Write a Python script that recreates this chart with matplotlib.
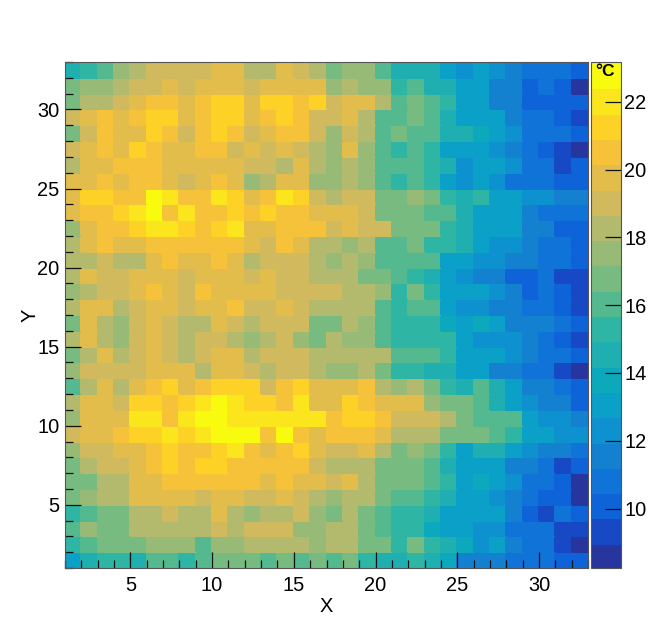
import matplotlib
matplotlib.use("Agg")
import numpy as np
import matplotlib.pyplot as plt
from matplotlib.colors import ListedColormap, BoundaryNorm
from matplotlib.ticker import MultipleLocator

plt.rcParams['font.family'] = ['Liberation Sans', 'DejaVu Sans']

x_edges = list(range(1, 34))
y_edges = list(range(1, 34))
cbar_ticks = [10, 12, 14, 16, 18, 20, 22]
z_min = 8.25
z_max = 23.17
palette = ['#27359e', '#1749c5', '#0e63d9', '#1073d8', '#1480d0', '#0e92cf', '#0aa0c8',
           '#0ca9bd', '#1fafb0', '#2fb5a3', '#55b990', '#77bb80', '#97bb76', '#b3ba6d',
           '#d1b95e', '#e3bd4c', '#f5c23a', '#fed126', '#fbe51c', '#f9fb0e']

# temperatures, first list is the top row (Y = 32-33)
temps = [
 [14.6,15.3,16.1,17.6,18.3,19.1,19.1,19.1,19.1,19.8,19.8,18.3,18.3,19.8,19.1,18.3,16.8,17.6,17.6,16.1,14.6,14.6,14.6,13.1,12.4,13.1,12.4,11.6,10.9,10.9,10.9,10.1],
 [16.8,17.6,17.6,18.3,19.1,19.1,19.8,19.1,19.8,19.8,19.8,19.1,19.8,19.8,19.8,19.8,17.6,18.3,17.6,17.6,15.3,16.1,14.6,14.6,13.1,13.1,11.6,11.6,10.1,10.9,10.1,8.6],
 [16.8,18.3,18.3,19.1,19.8,20.6,20.6,19.8,20.6,21.3,21.3,19.8,21.3,21.3,20.6,21.3,19.1,19.8,19.8,18.3,16.1,16.8,16.1,15.3,13.1,13.1,11.6,11.6,10.1,10.1,10.1,10.1],
 [19.1,19.8,20.6,19.8,20.6,21.3,21.3,19.8,20.6,21.3,21.3,19.8,20.6,21.3,20.6,19.1,19.1,19.8,18.3,16.1,16.1,16.8,16.1,14.6,13.1,13.1,13.1,11.6,10.9,10.9,10.1,9.4],
 [16.8,19.1,20.6,19.8,19.8,21.3,20.6,19.1,20.6,21.3,20.6,19.1,19.8,20.6,20.6,19.1,17.6,19.1,18.3,16.1,16.8,16.1,16.1,14.6,14.6,13.9,13.1,12.4,10.9,10.9,10.9,10.1],
 [19.1,19.8,20.6,19.8,21.3,20.6,19.8,19.8,20.6,20.6,19.1,19.8,19.1,19.8,19.1,18.3,17.6,19.8,17.6,16.1,15.3,16.1,15.3,13.1,13.1,13.1,12.4,11.6,10.9,10.1,9.4,8.6],
 [18.3,19.8,19.8,20.6,20.6,20.6,19.8,19.8,19.8,19.8,19.8,19.1,19.1,18.3,19.8,18.3,17.6,18.3,17.6,16.1,16.1,16.1,15.3,14.6,12.4,13.1,13.1,12.4,10.9,10.9,9.4,10.1],
 [19.8,19.8,20.6,19.8,20.6,20.6,19.8,19.1,19.8,20.6,19.8,17.6,18.3,19.8,19.8,17.6,17.6,18.3,17.6,16.1,15.3,16.1,15.3,13.1,12.4,13.1,12.4,10.9,10.9,10.9,10.1,10.1],
 [19.8,21.3,21.3,20.6,20.6,22.8,22.0,20.6,20.6,22.0,21.3,19.8,20.6,22.0,21.3,19.1,18.3,19.1,19.1,16.8,16.8,17.6,16.8,15.3,14.6,15.3,13.1,13.1,12.4,12.4,11.6,11.6],
 [19.8,20.6,20.6,21.3,22.0,22.8,20.6,22.0,20.6,20.6,21.3,20.6,21.3,20.6,20.6,19.8,19.8,19.8,19.1,16.8,16.8,16.8,16.1,16.1,14.6,13.1,13.1,13.1,11.6,10.9,10.9,10.9],
 [17.6,19.8,20.6,20.6,21.3,22.0,22.0,21.3,20.6,21.3,22.0,19.8,19.8,20.6,20.6,20.6,19.1,19.8,19.1,19.1,16.8,16.8,16.8,15.3,14.6,13.1,13.1,13.1,11.6,11.6,10.1,10.1],
 [18.3,19.8,20.6,19.8,19.8,20.6,20.6,20.6,20.6,20.6,20.6,19.8,19.1,20.6,19.8,18.3,18.3,17.6,18.3,16.1,16.1,16.8,15.3,15.3,14.6,13.1,12.4,12.4,11.6,10.9,10.9,10.1],
 [18.3,18.3,19.1,18.3,18.3,19.8,20.6,19.8,19.8,20.6,19.8,18.3,19.1,19.1,19.1,18.3,17.6,18.3,17.6,16.1,16.1,16.1,16.1,13.1,13.1,12.4,12.4,11.6,11.6,10.9,10.9,10.1],
 [18.3,19.8,19.1,19.1,19.8,19.8,19.8,19.1,19.8,19.8,19.8,19.1,19.8,19.1,19.1,18.3,18.3,18.3,16.8,16.8,16.1,15.3,14.6,13.1,12.4,11.6,11.6,10.1,10.1,10.9,9.4,9.4],
 [17.6,18.3,19.1,19.1,19.8,20.6,19.8,19.1,20.6,19.8,19.8,19.8,19.8,19.1,19.1,19.1,19.1,18.3,18.3,17.6,15.3,16.8,15.3,13.1,13.1,13.1,12.4,11.6,10.1,10.9,10.1,9.4],
 [18.3,19.8,19.8,18.3,19.1,19.8,19.8,19.1,19.8,19.8,20.6,19.1,19.1,19.8,19.1,18.3,18.3,18.3,18.3,16.1,15.3,16.1,16.1,13.1,12.4,12.4,11.6,11.6,10.9,10.9,10.1,9.4],
 [16.8,19.8,18.3,17.6,19.1,19.8,19.1,18.3,18.3,19.8,19.1,18.3,19.1,19.1,19.1,16.8,16.8,18.3,17.6,16.1,15.3,15.3,15.3,13.9,13.1,13.9,13.1,11.6,11.6,11.6,10.9,10.1],
 [18.3,19.8,18.3,17.6,19.1,19.8,19.1,18.3,19.1,19.1,18.3,17.6,18.3,19.1,17.6,16.8,18.3,17.6,17.6,16.1,15.3,15.3,15.3,15.3,13.1,12.4,12.4,12.4,11.6,10.9,10.1,9.4],
 [16.8,18.3,19.8,18.3,19.1,19.8,19.1,18.3,19.1,19.8,19.8,18.3,19.1,19.1,19.1,18.3,18.3,18.3,18.3,18.3,16.1,16.1,16.1,15.3,13.1,13.1,13.1,12.4,11.6,10.9,10.9,10.1],
 [17.6,19.1,19.1,19.1,19.1,19.8,19.8,19.8,18.3,19.8,19.8,19.1,18.3,19.1,19.1,18.3,17.6,17.6,18.3,16.8,15.3,15.3,14.6,14.6,13.1,13.1,11.6,11.6,10.9,10.9,9.4,8.6],
 [16.1,18.3,19.8,18.3,19.8,20.6,21.3,19.8,20.6,21.3,21.3,21.3,19.1,20.6,21.3,19.8,19.8,19.8,20.6,18.3,17.6,18.3,16.8,15.3,14.6,16.1,14.6,13.1,11.6,11.6,10.9,10.1],
 [18.3,19.8,19.8,19.1,21.3,21.3,20.6,21.3,22.0,22.8,22.0,21.3,21.3,20.6,22.0,19.8,19.8,21.3,20.6,19.8,19.8,19.8,17.6,16.8,16.8,16.1,14.6,13.1,12.4,11.6,11.6,10.1],
 [17.6,19.8,19.8,19.8,22.0,22.0,20.6,22.0,22.8,22.8,22.0,22.0,22.0,22.0,22.0,22.0,20.6,21.3,21.3,20.6,19.1,19.1,19.1,18.3,16.8,16.1,16.1,16.1,13.1,12.4,12.4,11.6],
 [19.1,19.8,19.8,20.6,21.3,21.3,22.0,21.3,22.0,22.8,22.8,22.8,20.6,22.8,20.6,19.8,20.6,20.6,20.6,19.8,18.3,18.3,18.3,16.8,16.8,16.8,16.1,15.3,13.1,13.1,12.4,12.4],
 [17.6,19.1,19.1,19.8,19.8,20.6,21.3,20.6,20.6,21.3,22.0,20.6,19.8,20.6,21.3,19.8,19.1,19.1,19.8,18.3,16.8,17.6,16.8,15.3,13.1,14.6,14.6,13.1,12.4,11.6,11.6,10.9],
 [16.8,18.3,19.1,19.1,19.8,20.6,21.3,20.6,21.3,21.3,20.6,20.6,20.6,20.6,20.6,19.1,18.3,18.3,18.3,16.8,16.8,16.8,16.1,14.6,13.1,13.1,13.1,11.6,11.6,10.9,9.4,10.1],
 [16.8,16.8,18.3,18.3,19.8,19.8,20.6,20.6,20.6,20.6,20.6,20.6,19.8,20.6,19.8,19.8,19.1,19.8,18.3,16.8,16.8,16.8,16.1,15.3,13.1,13.9,13.1,12.4,10.9,10.9,10.1,8.6],
 [16.8,17.6,18.3,18.3,19.8,19.8,19.8,19.8,19.1,19.8,19.8,19.1,19.1,19.8,19.1,18.3,17.6,18.3,18.3,16.8,16.1,16.1,15.3,14.6,13.1,13.1,12.4,11.6,10.9,10.1,10.1,8.6],
 [15.3,16.1,16.8,16.8,18.3,18.3,19.1,18.3,18.3,19.8,18.3,17.6,18.3,18.3,19.1,17.6,16.8,18.3,16.8,16.1,15.3,15.3,14.6,13.1,13.1,13.1,13.1,11.6,10.1,9.4,10.9,10.1],
 [16.1,17.6,16.8,16.8,18.3,18.3,18.3,18.3,18.3,19.1,18.3,19.1,19.1,19.1,17.6,17.6,18.3,18.3,16.8,16.1,15.3,15.3,13.9,13.1,13.1,12.4,12.4,10.9,10.9,10.9,9.4,9.4],
 [15.3,16.1,16.8,16.8,16.8,17.6,17.6,17.6,16.1,17.6,17.6,18.3,18.3,18.3,18.3,17.6,18.3,18.3,16.8,16.8,15.3,16.8,15.3,14.6,13.9,12.4,13.1,11.6,10.9,10.9,9.4,8.6],
 [13.1,14.6,15.3,15.3,14.6,16.1,16.1,15.3,16.1,16.8,16.8,16.8,16.1,16.8,16.1,16.8,16.1,16.8,15.3,14.6,14.6,15.3,14.6,13.9,11.6,11.6,11.6,10.9,10.9,10.9,10.1,10.1],
]

W, H = 654, 631
fig = plt.figure(figsize=(W / 100, H / 100), dpi=100, facecolor='white')
ax = fig.add_axes([65 / W, (H - 568) / H, 523 / W, 506 / H])
cax = fig.add_axes([591 / W, (H - 568) / H, 30 / W, 506 / H])

levels = np.linspace(z_min, z_max, len(palette) + 1)
cmap = ListedColormap(palette)
norm = BoundaryNorm(levels, cmap.N)
z = np.array(temps)[::-1]
mesh = ax.pcolormesh(x_edges, y_edges, z, cmap=cmap, norm=norm, edgecolors='face', linewidth=0.05)

ax.set_xlim(1, 33)
ax.set_ylim(1, 33)
ax.xaxis.set_major_locator(MultipleLocator(5))
ax.yaxis.set_major_locator(MultipleLocator(5))
ax.xaxis.set_minor_locator(MultipleLocator(1))
ax.yaxis.set_minor_locator(MultipleLocator(1))
ax.tick_params(which='major', direction='in', length=11.5, width=0.9, color='#111111')
ax.tick_params(which='minor', direction='in', length=5.8, width=0.9, color='#111111')
ax.tick_params(axis='x', which='major', labelsize=14.4, pad=5.5)
ax.tick_params(axis='y', which='major', labelsize=14.4, pad=4)
ax.set_xlabel('X', fontsize=14.4, labelpad=1.5)
ax.set_ylabel('Y', fontsize=14.4, labelpad=-2)
for s in ax.spines.values():
    s.set_linewidth(0.8)
    s.set_color('#555555')

cb = fig.colorbar(mesh, cax=cax, boundaries=levels, spacing='proportional', drawedges=False)
cb.set_ticks(cbar_ticks)
cb.ax.minorticks_off()
cb.ax.tick_params(direction='in', length=11.5, width=0.9, color='#111111', labelsize=14.4, pad=2.5)
cb.outline.set_linewidth(0.8)
cb.outline.set_edgecolor('#555555')
cb.solids.set_edgecolor('face')

fig.text(605 / W, (H - 72) / H, '°C', fontsize=12.5, fontweight='bold', ha='center', va='center', color='black')

fig.savefig('out.png', dpi=100, facecolor='white')
